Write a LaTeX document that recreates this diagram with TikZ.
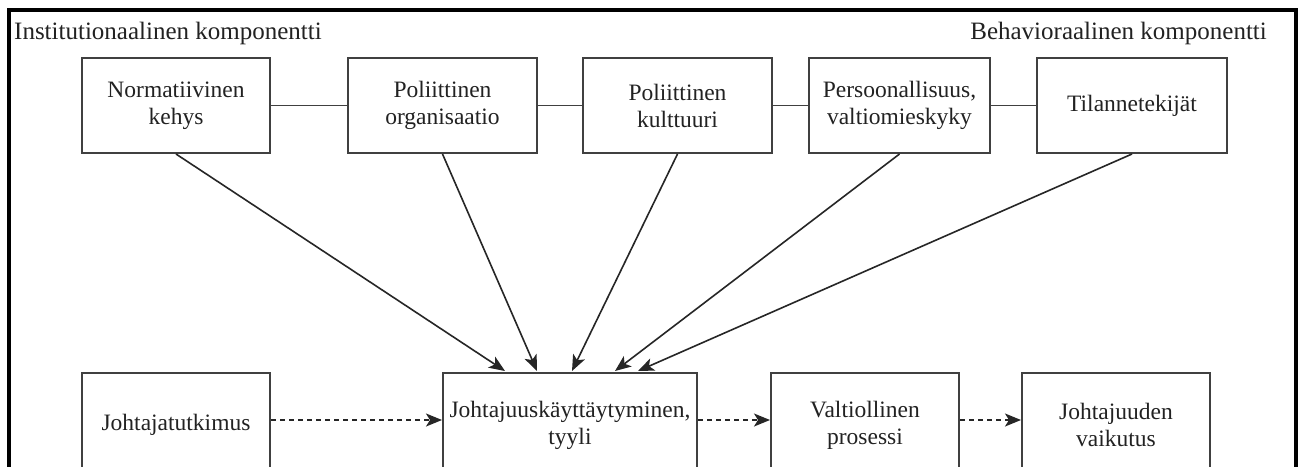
\documentclass[tikz,border=0pt]{standalone}
\usepackage{fontspec}
\setmainfont{LiberationSerif-Regular.ttf}
\usetikzlibrary{arrows.meta,calc}
\definecolor{boxline}{HTML}{404040}
\definecolor{txt}{HTML}{222222}
\begin{document}
\begin{tikzpicture}[x=1pt,y=-1pt,
  box/.style={draw=boxline,line width=2pt,fill=white,minimum height=95pt,inner sep=0pt,align=center,
    font=\fontsize{23.5}{27}\selectfont,text=txt},
  lowbox/.style={box,minimum height=104pt},
  link/.style={draw=boxline,line width=1.8pt},
  infl/.style={draw=black!85,line width=1.6pt,-{Stealth[length=16pt,width=13pt,inset=4pt]}},
  flow/.style={draw=black!85,line width=1.6pt,dash pattern=on 5pt off 4pt,-{Stealth[length=16pt,width=13pt,inset=4pt]}},
  lbl/.style={font=\fontsize{25}{28}\selectfont,text=txt,inner sep=0pt}]
\useasboundingbox (0,0) rectangle (1304,466);
\begin{scope}
\clip (0,0) rectangle (1304,466);
\fill[white] (0,0) rectangle (1304,466);
\draw[black,line width=3.5pt] (9,500) -- (9,10) -- (1296,10) -- (1296,500);
\node[lbl,anchor=west] (inst) at (14,33) {Institutionaalinen komponentti};
\node[lbl,anchor=east] (beh) at (1267,33) {Behavioraalinen komponentti};
% top row
\node[box,minimum width=188pt] (b1) at (176,105.5) {Normatiivinen\\kehys};
\node[box,minimum width=189pt] (b2) at (442.5,105.5) {Poliittinen\\organisaatio};
\node[box,minimum width=189pt] (b3) at (677.5,105.5) {Poliittinen\\kulttuuri};
\node[box,minimum width=181pt] (b4) at (899.5,105.5) {Persoonallisuus,\\valtiomieskyky};
\node[box,minimum width=190pt] (b5) at (1132,105.5) {Tilannetekijät};
\draw[link] (b1.east) -- (b2.west);
\draw[link] (b2.east) -- (b3.west);
\draw[link] (b3.east) -- (b4.west);
\draw[link] (b4.east) -- (b5.west);
% bottom row
\node[lowbox,minimum width=188pt] (j) at (176,425) {Johtajatutkimus};
\node[lowbox,minimum width=254pt] (c) at (570,425) {Johtajuuskäyttäytyminen,\\tyyli};
\node[lowbox,minimum width=188pt] (v) at (865,425) {Valtiollinen\\prosessi};
\node[lowbox,minimum width=188pt] (e) at (1116,425) {Johtajuuden\\vaikutus};
% influences
\draw[infl] (b1.south) -- ($(c.north)+(-65,-1)$);
\draw[infl] (b2.south) -- ($(c.north)+(-33,-1)$);
\draw[infl] (b3.south) -- ($(c.north)+(2,-1)$);
\draw[infl] (b4.south) -- ($(c.north)+(45,-1)$);
\draw[infl] (b5.south) -- ($(c.north)+(68,-1)$);
% flows
\draw[flow] ($(j.east)+(0,-5)$) -- ($(c.west)+(0,-5)$);
\draw[flow] ($(c.east)+(0,-5)$) -- ($(v.west)+(0,-5)$);
\draw[flow] ($(v.east)+(0,-5)$) -- ($(e.west)+(0,-5)$);
\end{scope}
\end{tikzpicture}
\end{document}
